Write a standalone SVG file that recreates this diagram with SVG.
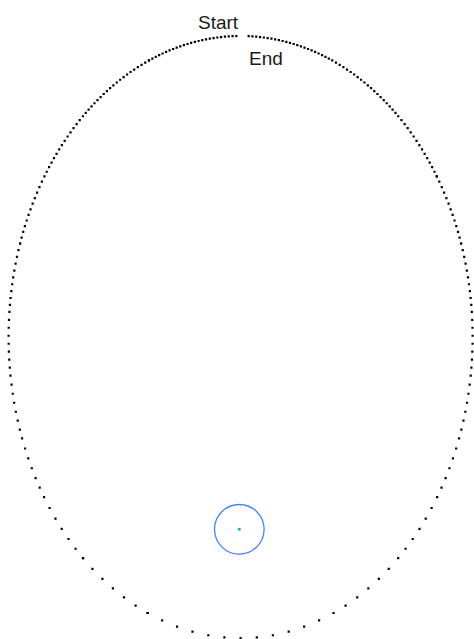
<svg xmlns="http://www.w3.org/2000/svg" width="474" height="639" viewBox="0 0 474 639">
<style>
.o{fill:none;stroke:#000;stroke-width:2.2;stroke-linecap:square;stroke-dasharray:0 1}
.t{font-family:"Liberation Sans",Arial,sans-serif;font-size:19px;fill:#1a1a1a}
</style>
<rect width="474" height="639" fill="#fff"/>
<g id="orbit">
<path class="o" pathLength="12" d="M147.65 612.98A232 301.1 0 0 0 333.55 612.98"/>
<path class="o" pathLength="6" d="M333.55 612.98A232 301.1 0 0 0 398.16 558.11"/>
<path class="o" pathLength="6" d="M398.16 558.11A232 301.1 0 0 0 437.13 497.11"/>
<path class="o" pathLength="6" d="M437.13 497.11A232 301.1 0 0 0 459.08 438.39"/>
<path class="o" pathLength="7" d="M459.08 438.39A232 301.1 0 0 0 470.70 375.58"/>
<path class="o" pathLength="8" d="M470.70 375.58A232 301.1 0 0 0 471.78 311.84"/>
<path class="o" pathLength="10" d="M471.78 311.84A232 301.1 0 0 0 461.10 243.49"/>
<path class="o" pathLength="12" d="M461.10 243.49A232 301.1 0 0 0 436.78 176.37"/>
<path class="o" pathLength="14" d="M436.78 176.37A232 301.1 0 0 0 398.29 116.25"/>
<path class="o" pathLength="20" d="M398.29 116.25A232 301.1 0 0 0 332.21 60.47"/>
<path class="o" pathLength="24" d="M332.21 60.47A232 301.1 0 0 0 244.86 36.05"/>
<path class="o" pathLength="6" d="M147.65 612.98A232 301.1 0 0 1 83.04 558.11"/>
<path class="o" pathLength="6" d="M83.04 558.11A232 301.1 0 0 1 44.07 497.11"/>
<path class="o" pathLength="6" d="M44.07 497.11A232 301.1 0 0 1 22.12 438.39"/>
<path class="o" pathLength="7" d="M22.12 438.39A232 301.1 0 0 1 10.50 375.58"/>
<path class="o" pathLength="8" d="M10.50 375.58A232 301.1 0 0 1 9.42 311.84"/>
<path class="o" pathLength="10" d="M9.42 311.84A232 301.1 0 0 1 20.10 243.49"/>
<path class="o" pathLength="12" d="M20.10 243.49A232 301.1 0 0 1 44.42 176.37"/>
<path class="o" pathLength="14" d="M44.42 176.37A232 301.1 0 0 1 82.91 116.25"/>
<path class="o" pathLength="20" d="M82.91 116.25A232 301.1 0 0 1 148.99 60.47"/>
<path class="o" pathLength="24" d="M148.99 60.47A232 301.1 0 0 1 236.34 36.05"/>
</g>
<g id="focus">
<circle cx="239.3" cy="529.3" r="24.8" fill="none" stroke="#3f7fff" stroke-width="1.3"/>
<circle cx="239.3" cy="529.3" r="1.5" fill="#00b8cc"/>
</g>
<g id="labels">
<text class="t" x="198" y="29">Start</text>
<text class="t" x="249" y="65">End</text>
</g>
</svg>
